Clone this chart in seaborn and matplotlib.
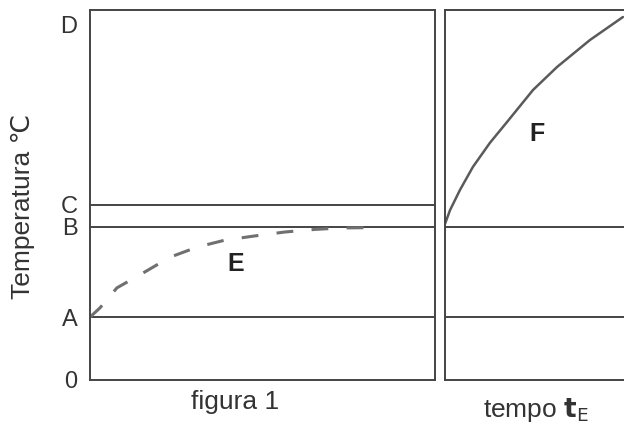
import matplotlib
matplotlib.use("Agg")
import matplotlib.pyplot as plt
import seaborn as sns
import pandas as pd

# --- data ---
tick_labels = ["0", "A", "B", "C", "D"]
tick_values = [0.0, 1.70, 4.14, 4.73, 9.62]

e_x = [0.0, 0.029, 0.078, 0.148, 0.232, 0.31, 0.391, 0.475, 0.565, 0.652, 0.73, 0.835]
e_y = [1.70, 1.95, 2.49, 2.86, 3.32, 3.59, 3.78, 3.89, 4.00, 4.07, 4.11, 4.12]

f_x = [0.0, 0.028, 0.084, 0.156, 0.251, 0.346, 0.492, 0.626, 0.81, 0.994]
f_y = [4.22, 4.59, 5.14, 5.76, 6.41, 6.97, 7.84, 8.46, 9.19, 9.81]

left_levels = [1.70, 4.14, 4.73]
right_levels = [1.70, 4.14]

sns.set_theme(style="white")
plt.rcParams['font.family'] = ['Liberation Sans', 'DejaVu Sans']

LC = "#444444"
TC = "#333333"

fig = plt.figure(figsize=(6.24, 4.25), dpi=100)
ax1 = fig.add_axes([90/624, 1-380/425, 345/624, 370/425])
ax2 = fig.add_axes([445/624, 1-380/425, 1-445/624, 370/425])

for ax in (ax1, ax2):
    ax.set_ylim(0, 10)
    ax.set_xlim(0, 1)
    ax.set_xticks([])
    for s in ax.spines.values():
        s.set_color(LC)
        s.set_linewidth(1.4)
ax2.spines['right'].set_visible(False)
ax2.set_yticks([])

for lv in left_levels:
    ax1.axhline(lv, color=LC, lw=1.4)
for lv in right_levels:
    ax2.axhline(lv, color=LC, lw=1.4)

sns.lineplot(data=pd.DataFrame({"x": e_x, "y": e_y}), x="x", y="y", ax=ax1,
             color="#707070", lw=2.2, linestyle=(0, (5.5, 6)), sort=False)
sns.lineplot(data=pd.DataFrame({"x": f_x, "y": f_y}), x="x", y="y", ax=ax2,
             color="#5a5a5a", lw=1.8, sort=False)

ax1.set_yticks(tick_values)
ax1.set_yticklabels(tick_labels, fontsize=17, color=TC)
ax1.tick_params(axis='y', length=0, pad=9)
ax1.set_xlabel("")
ax1.set_ylabel("")
ax2.set_xlabel("")
ax2.set_ylabel("")

fig.text(23/624, 1-206/425, "Temperatura ℃", rotation=90, fontsize=19,
         color=TC, ha='center', va='center')
fig.text(235/624, 1-402/425, "figura 1", fontsize=19, color=TC, ha='center', va='center')
fig.text(536/624, 1-410/425, r"tempo $\mathbf{t}_{\mathrm{E}}$", fontsize=19, color=TC,
         ha='center', va='center')

ax1.text(0.423, 3.14, "E", fontsize=18, fontweight='bold', color="#222222",
         ha='center', va='center')
ax2.text(0.514, 6.65, "F", fontsize=18, fontweight='bold', color="#222222",
         ha='center', va='center')

fig.savefig("out.png", dpi=100, facecolor="white")
